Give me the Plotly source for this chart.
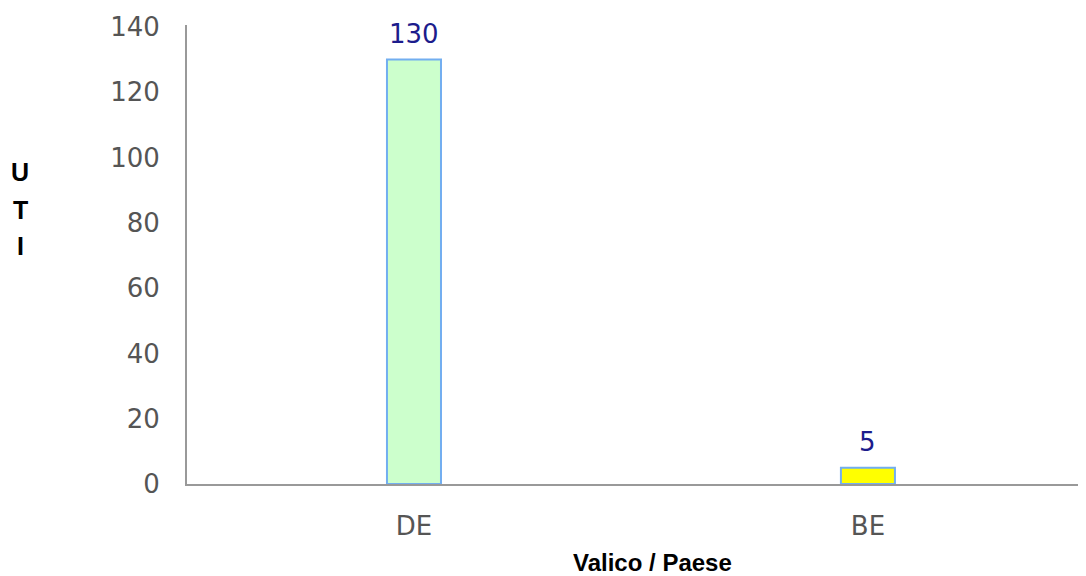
import plotly.graph_objects as go

categories = ["DE", "BE"]
values = [130, 5]
bar_colors = ["#ccffcc", "#ffff00"]
y_ticks = [0, 20, 40, 60, 80, 100, 120, 140]
y_title_letters = ["U", "T", "I"]
x_title = "Valico / Paese"

fig = go.Figure()
fig.add_trace(go.Bar(
    x=categories, y=values,
    marker=dict(color=bar_colors, line=dict(color="#72aef0", width=2)),
    width=0.119,
    hoverinfo="x+y",
))

for c, v in zip(categories, values):
    fig.add_annotation(x=c, y=v, text=str(v), showarrow=False, yshift=26,
                       font=dict(family="DejaVu Sans", size=26, color="#1c1c8c"))

# paper coords relative to a plot area of width 907 starting at x=187
letter_y = [0.680, 0.597, 0.519]
for letter, ly in zip(y_title_letters, letter_y):
    fig.add_annotation(xref="paper", yref="paper", x=-0.1841, y=ly,
                       text=letter, showarrow=False, xanchor="center", yanchor="middle",
                       font=dict(family="Liberation Sans", size=25, color="#000000", weight="bold"))

fig.add_annotation(xref="paper", yref="paper", x=0.5127, y=-0.170, yanchor="middle",
                   text=x_title, showarrow=False,
                   font=dict(family="Liberation Sans", size=24, color="#000000", weight="bold"))

fig.update_layout(
    width=1086, height=568,
    margin=dict(l=179, r=0, t=17, b=92),
    plot_bgcolor="white", paper_bgcolor="white",
    showlegend=False,
    font=dict(family="DejaVu Sans", size=26, color="#555555"),
)
fig.update_xaxes(
    type="category", range=[-0.5, 1.498],
    showline=True, linecolor="#999999", linewidth=2,
    showgrid=False, zeroline=False, ticks="", ticklabelstandoff=18,
    tickfont=dict(family="DejaVu Sans", size=26, color="#555555"),
)
fig.update_yaxes(
    range=[0, 140.6], tickvals=y_ticks,
    showline=True, linecolor="#999999", linewidth=2,
    showgrid=False, zeroline=False, ticks="", ticklabelstandoff=20,
    tickfont=dict(family="DejaVu Sans", size=26, color="#555555"),
)

fig.write_html("out.html")
